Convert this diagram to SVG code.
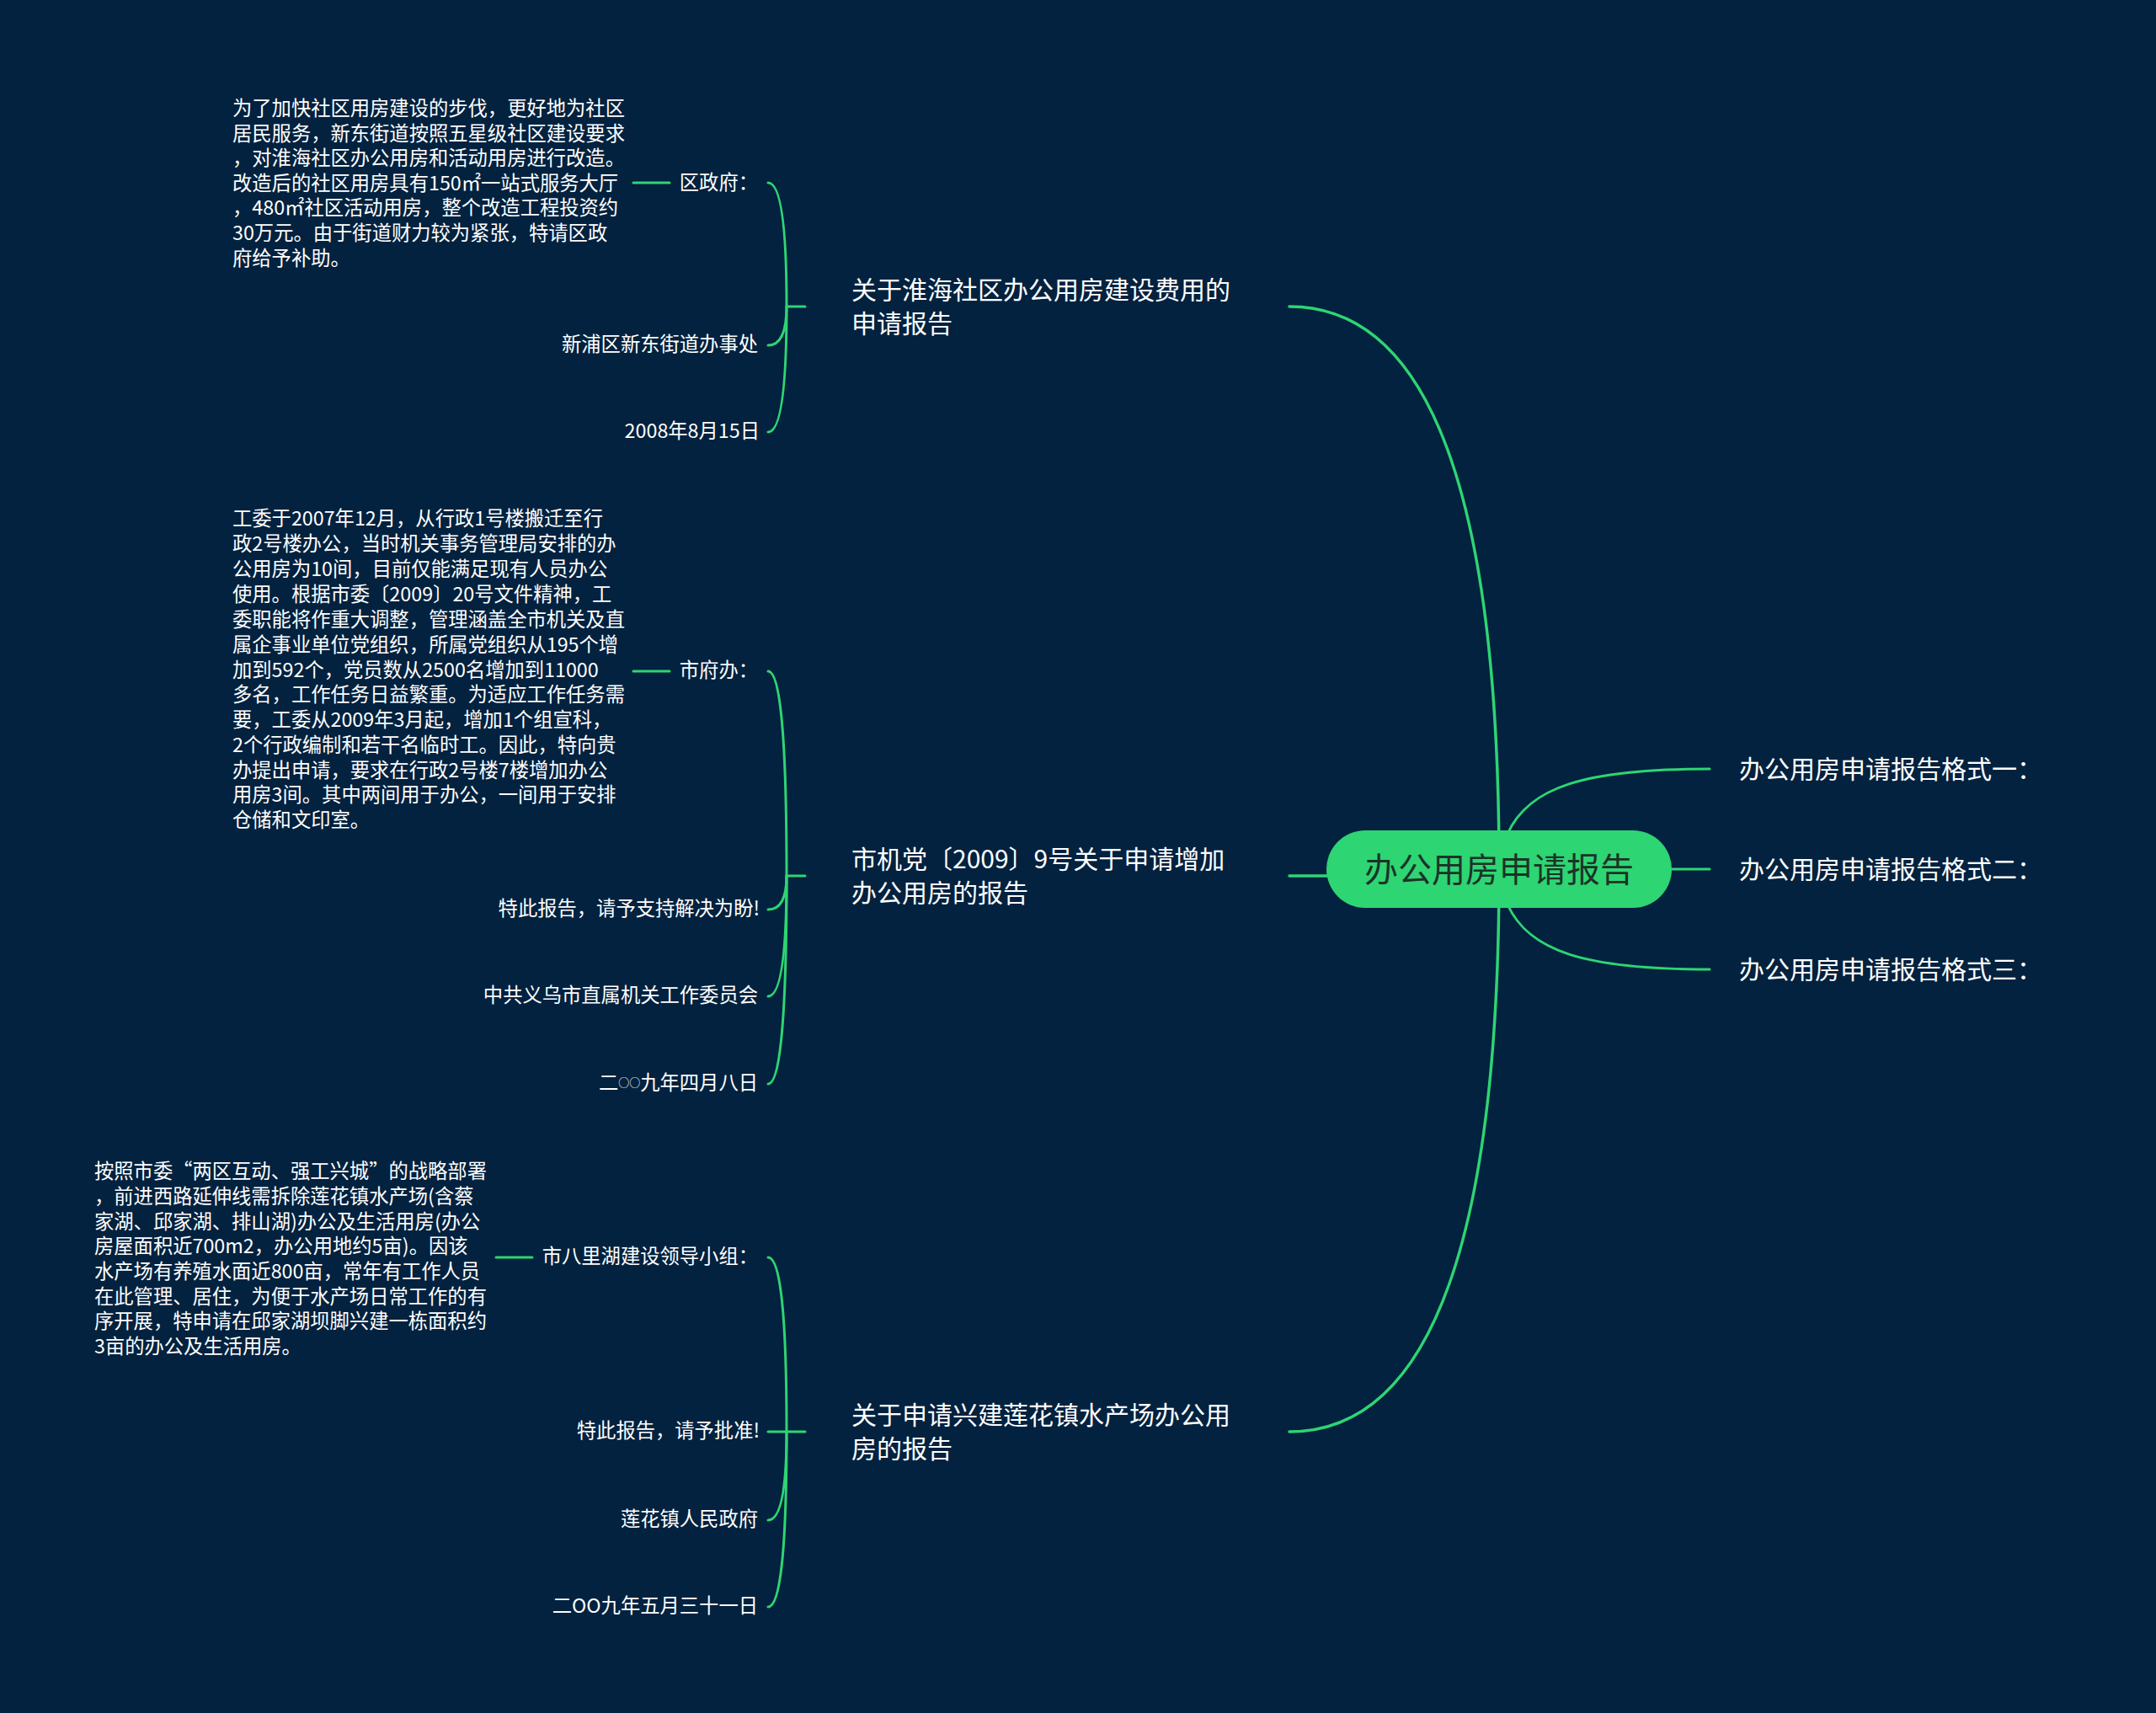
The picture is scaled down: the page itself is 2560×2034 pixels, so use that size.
<svg xmlns="http://www.w3.org/2000/svg" width="2560" height="2034" viewBox="0 0 2560 2034">
<style>
.bg{fill:#03223f}
.ln{fill:none;stroke:#2ed573;stroke-width:3;stroke-linecap:round}
.lm{fill:none;stroke:#2ed573;stroke-width:3.5;stroke-linecap:round}
text{font-family:"Noto Sans CJK SC","Noto Sans",sans-serif;fill:#ffffff;dominant-baseline:central}
.b{font-size:30px}
.s{font-size:23.3px}
.r{text-anchor:end}
.root{font-size:40px;fill:#1c3328;text-anchor:middle}
.sm{font-size:13px}
</style>
<rect class="bg" x="0" y="0" width="2560" height="2034"/>
<g id="connectors">
  <path class="lm" d="M1780,1032 Q1780,364 1531,364"/>
  <path class="lm" d="M1780,1032 Q1780,1040 1531,1040"/>
  <path class="lm" d="M1780,1032 Q1780,1700 1531,1700"/>
  <path class="ln" d="M1790,990 C1815,935 1880,913 2030,913"/>
  <path class="ln" d="M1985,1032 L2030,1032"/>
  <path class="ln" d="M1790,1074 C1815,1129 1880,1151 2030,1151"/>
  <path class="ln" d="M956,364 L934,364"/>
  <path class="ln" d="M934,364 Q934,217 912,217"/>
  <path class="ln" d="M934,364 Q934,410 912,410"/>
  <path class="ln" d="M934,364 Q934,513 912,513"/>
  <path class="ln" d="M795,217 L752,217"/>
  <path class="ln" d="M956,1040 L934,1040"/>
  <path class="ln" d="M934,1040 Q934,797 912,797"/>
  <path class="ln" d="M934,1040 Q934,1080 912,1080"/>
  <path class="ln" d="M934,1040 Q934,1183 912,1183"/>
  <path class="ln" d="M934,1040 Q934,1287 912,1287"/>
  <path class="ln" d="M795,797 L752,797"/>
  <path class="ln" d="M956,1700 L912,1700"/>
  <path class="ln" d="M934,1700 Q934,1493 912,1493"/>
  <path class="ln" d="M934,1700 Q934,1805 912,1805"/>
  <path class="ln" d="M934,1700 Q934,1908 912,1908"/>
  <path class="ln" d="M632,1493 L589,1493"/>
</g>
<g id="root">
  <rect x="1575" y="986" width="410" height="92" rx="46" ry="46" fill="#2ed573"/>
  <text class="root" x="1780" y="1030">办公用房申请报告</text>
</g>
<g id="r1"><text class="b" x="2065" y="911">办公用房申请报告格式一：</text></g>
<g id="r2"><text class="b" x="2065" y="1030">办公用房申请报告格式二：</text></g>
<g id="r3"><text class="b" x="2065" y="1149">办公用房申请报告格式三：</text></g>
<g id="b1">
  <text class="b" x="1011" y="342">关于淮海社区办公用房建设费用的</text>
  <text class="b" x="1011" y="382">申请报告</text>
</g>
<g id="b1c1"><text class="s r" x="900" y="215">区政府：</text></g>
<g id="b1c1t">
  <text class="s" x="276" y="127">为了加快社区用房建设的步伐，更好地为社区</text>
  <text class="s" x="276" y="157">居民服务，新东街道按照五星级社区建设要求</text>
  <text class="s" x="276" y="186">，对淮海社区办公用房和活动用房进行改造。</text>
  <text class="s" x="276" y="216">改造后的社区用房具有150㎡一站式服务大厅</text>
  <text class="s" x="276" y="245">，480㎡社区活动用房，整个改造工程投资约</text>
  <text class="s" x="276" y="275">30万元。由于街道财力较为紧张，特请区政</text>
  <text class="s" x="276" y="305">府给予补助。</text>
</g>
<g id="b1c2"><text class="s r" x="900" y="407">新浦区新东街道办事处</text></g>
<g id="b1c3"><text class="s r" x="902" y="510">2008年8月15日</text></g>
<g id="b2">
  <text class="b" x="1011" y="1018">市机党〔2009〕9号关于申请增加</text>
  <text class="b" x="1011" y="1058">办公用房的报告</text>
</g>
<g id="b2c1"><text class="s r" x="900" y="794">市府办：</text></g>
<g id="b2c1t">
  <text class="s" x="276" y="614">工委于2007年12月，从行政1号楼搬迁至行</text>
  <text class="s" x="276" y="644">政2号楼办公，当时机关事务管理局安排的办</text>
  <text class="s" x="276" y="674">公用房为10间，目前仅能满足现有人员办公</text>
  <text class="s" x="276" y="704">使用。根据市委〔2009〕20号文件精神，工</text>
  <text class="s" x="276" y="734">委职能将作重大调整，管理涵盖全市机关及直</text>
  <text class="s" x="276" y="764">属企事业单位党组织，所属党组织从195个增</text>
  <text class="s" x="276" y="794">加到592个，党员数从2500名增加到11000</text>
  <text class="s" x="276" y="823">多名，工作任务日益繁重。为适应工作任务需</text>
  <text class="s" x="276" y="853">要，工委从2009年3月起，增加1个组宣科，</text>
  <text class="s" x="276" y="883">2个行政编制和若干名临时工。因此，特向贵</text>
  <text class="s" x="276" y="913">办提出申请，要求在行政2号楼7楼增加办公</text>
  <text class="s" x="276" y="942">用房3间。其中两间用于办公，一间用于安排</text>
  <text class="s" x="276" y="972">仓储和文印室。</text>
</g>
<g id="b2c2"><text class="s r" x="902" y="1077">特此报告，请予支持解决为盼!</text></g>
<g id="b2c3"><text class="s r" x="900" y="1180">中共义乌市直属机关工作委员会</text></g>
<g id="b2c4"><text class="s r" x="900" y="1284">二<tspan class="sm">○○</tspan>九年四月八日</text></g>
<g id="b3">
  <text class="b" x="1011" y="1678">关于申请兴建莲花镇水产场办公用</text>
  <text class="b" x="1011" y="1718">房的报告</text>
</g>
<g id="b3c1"><text class="s r" x="900" y="1490">市八里湖建设领导小组：</text></g>
<g id="b3c1t">
  <text class="s" x="112" y="1389">按照市委“两区互动、强工兴城”的战略部署</text>
  <text class="s" x="112" y="1419">，前进西路延伸线需拆除莲花镇水产场(含蔡</text>
  <text class="s" x="112" y="1449">家湖、邱家湖、排山湖)办公及生活用房(办公</text>
  <text class="s" x="112" y="1478">房屋面积近700m2，办公用地约5亩)。因该</text>
  <text class="s" x="112" y="1508">水产场有养殖水面近800亩，常年有工作人员</text>
  <text class="s" x="112" y="1538">在此管理、居住，为便于水产场日常工作的有</text>
  <text class="s" x="112" y="1567">序开展，特申请在邱家湖坝脚兴建一栋面积约</text>
  <text class="s" x="112" y="1597">3亩的办公及生活用房。</text>
</g>
<g id="b3c2"><text class="s r" x="902" y="1697">特此报告，请予批准!</text></g>
<g id="b3c3"><text class="s r" x="900" y="1802">莲花镇人民政府</text></g>
<g id="b3c4"><text class="s r" x="900" y="1905">二OO九年五月三十一日</text></g>
</svg>
